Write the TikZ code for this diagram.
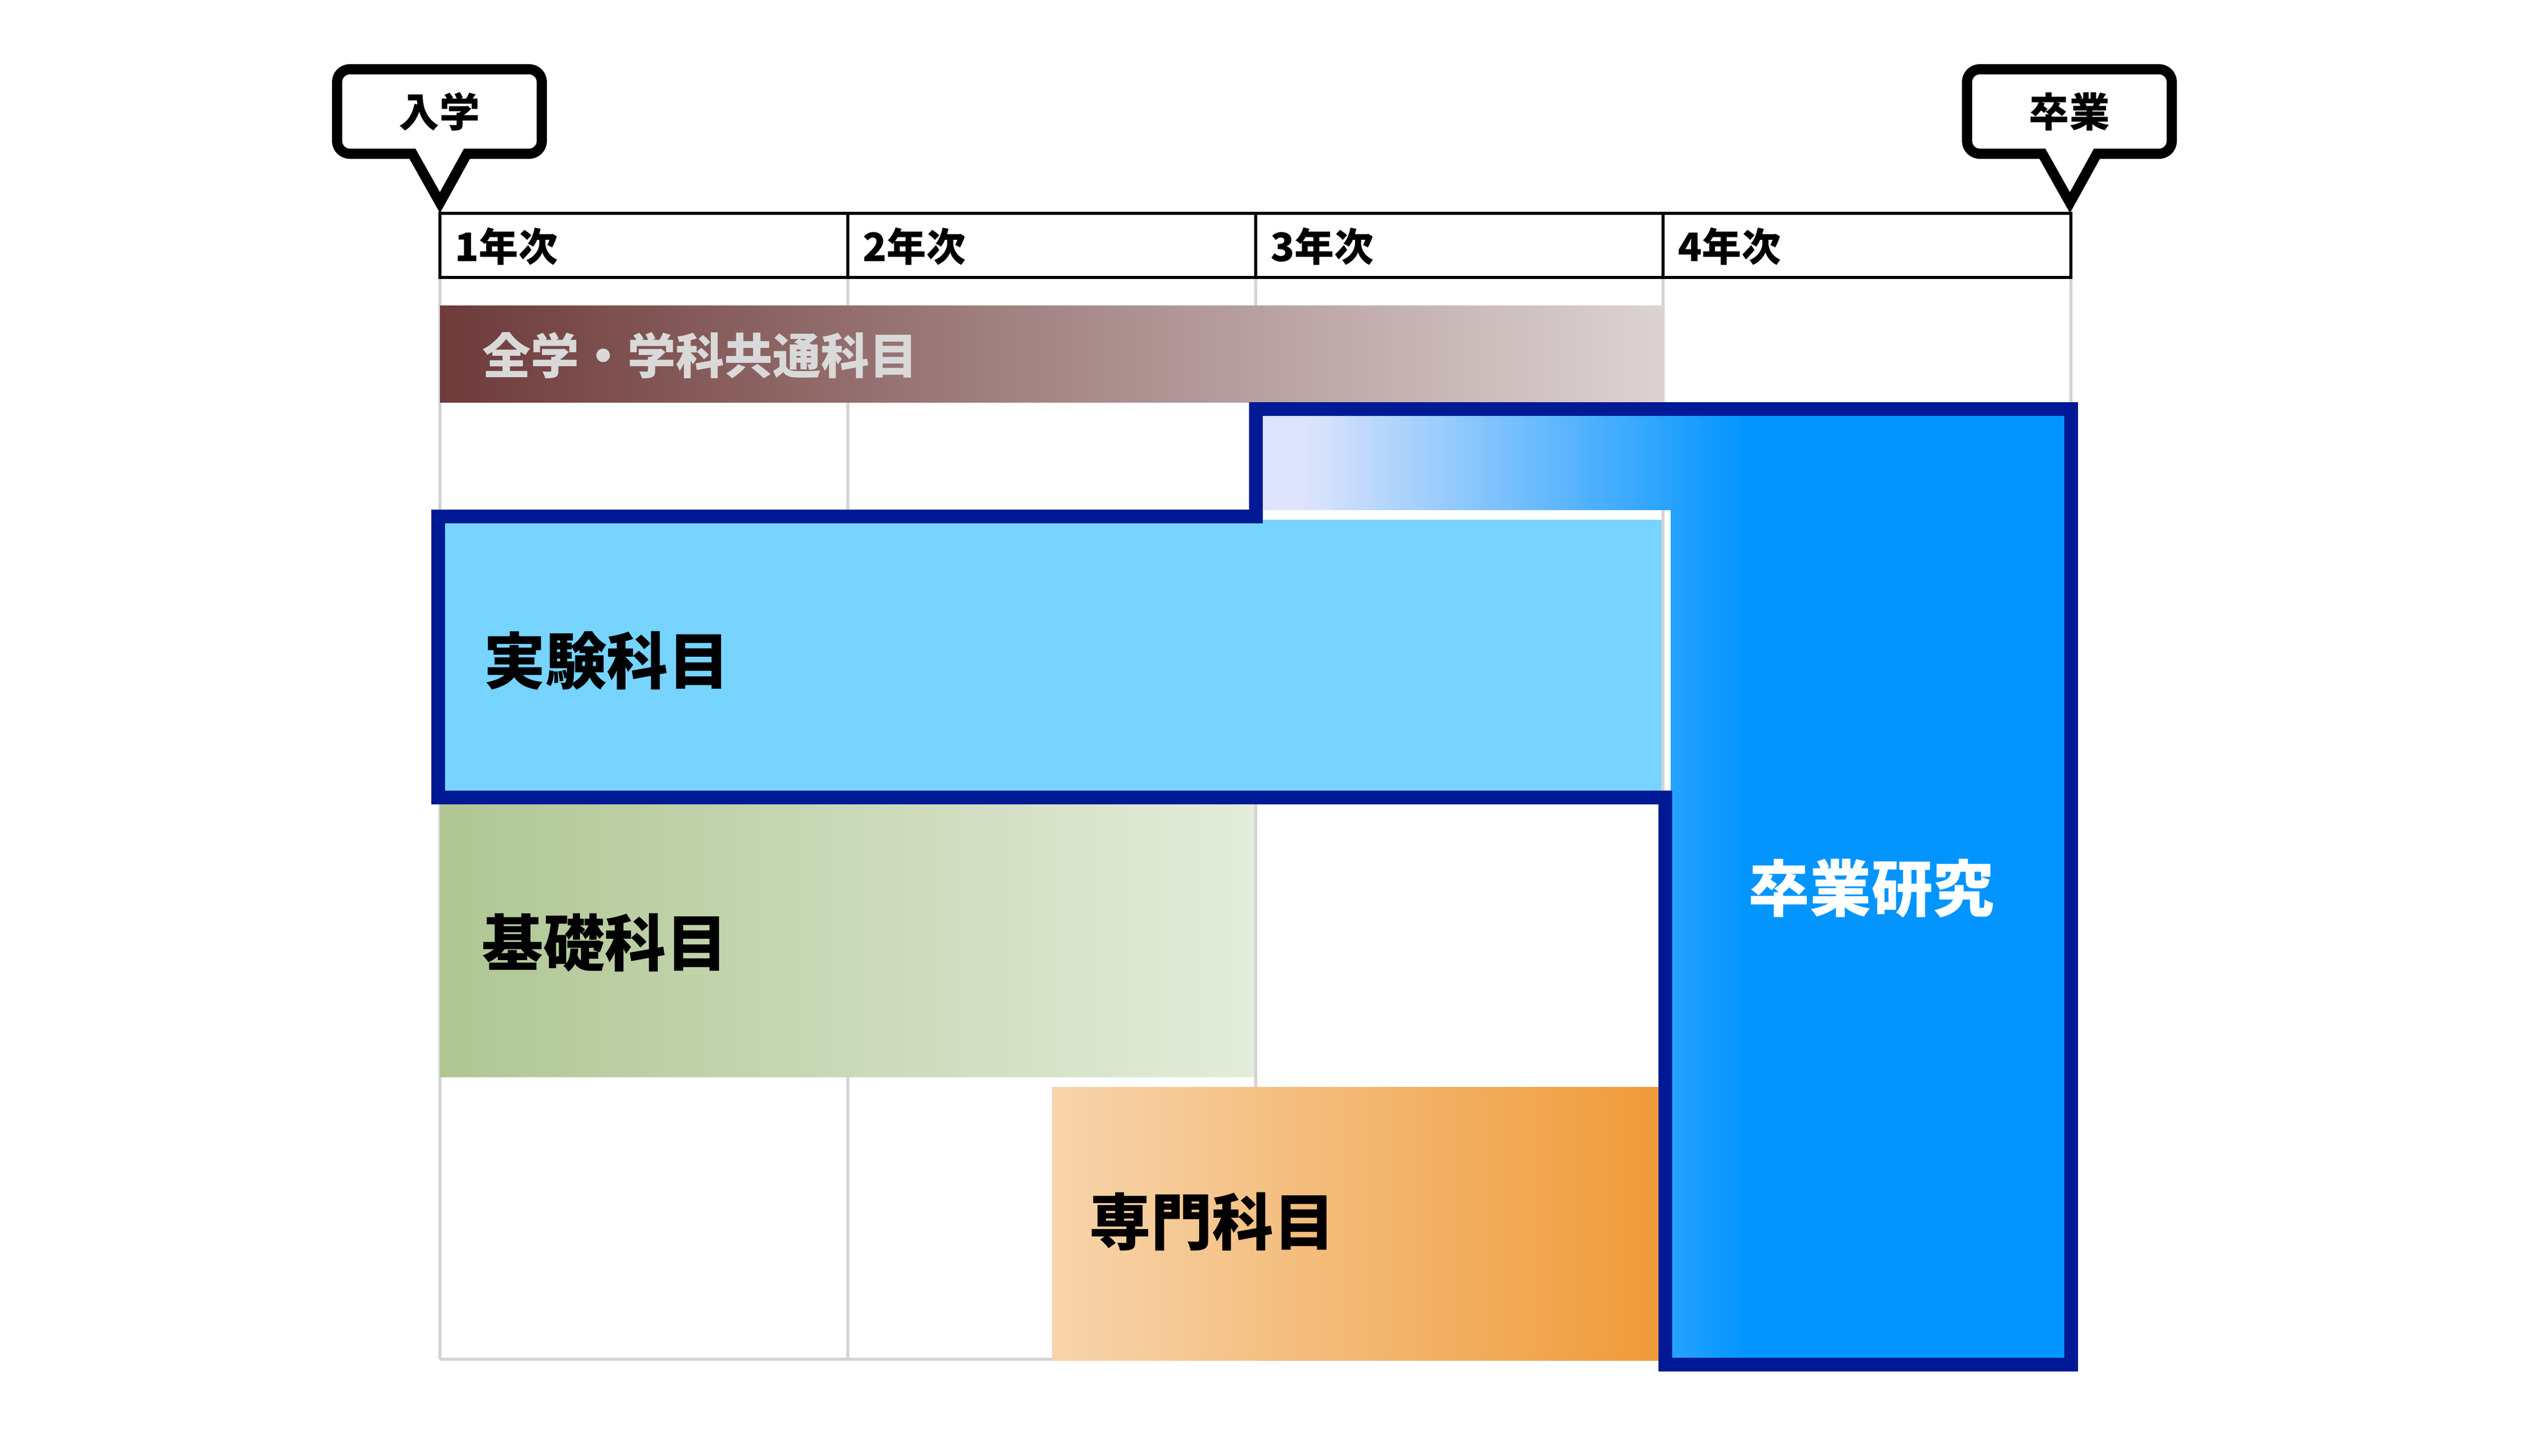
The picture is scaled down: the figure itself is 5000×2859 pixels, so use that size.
\documentclass[tikz,border=0pt]{standalone}
\usepackage{fontspec}
\newfontfamily\jp{Noto Sans CJK JP}
\definecolor{outl}{HTML}{001A96}
\definecolor{gridg}{HTML}{D4D4D4}
\definecolor{lblue}{HTML}{76D4FF}
\definecolor{lav}{HTML}{DDE4FB}
\definecolor{bblue}{HTML}{0295FF}
\definecolor{brL}{HTML}{6E3A3A}
\definecolor{brR}{HTML}{DDD3D3}
\definecolor{grL}{HTML}{AFC693}
\definecolor{grR}{HTML}{E4ECDB}
\definecolor{orL}{HTML}{F7D5AC}
\definecolor{orR}{HTML}{F09A37}
\definecolor{captxt}{HTML}{D9D9D9}
\pgfdeclarehorizontalshading{lshade}{100bp}{color(0bp)=(lav); color(28bp)=(lav); color(55bp)=(bblue); color(100bp)=(bblue)}
\tikzset{
  gridl/.style={draw=gridg, line width=0.06cm},
  hdr/.style={draw=black, line width=0.06cm},
  callout/.style={draw=black, line width=0.2cm, fill=white, line join=miter, miter limit=10},
  outline/.style={draw=outl, line width=0.27cm, line join=miter},
  hdrtxt/.style={anchor=west, inner sep=0pt, font=\jp\bfseries\fontsize{22}{26}\selectfont},
  bigtxt/.style={anchor=west, inner sep=0pt, font=\jp\bfseries\fontsize{34.3}{40}\selectfont},
  captxtstyle/.style={inner sep=0pt, font=\jp\bfseries\fontsize{22.5}{27}\selectfont},
}
\begin{document}
\begin{tikzpicture}[x=0.01cm,y=-0.01cm]
\useasboundingbox[fill=white] (0,0) rectangle (5000,2859);
% grid
\foreach \x in {864,1665,2466,3266,4067} \draw[gridl] (\x,545) -- (\x,2670);
\draw[gridl] (864,2670) -- (4067,2670);
% header
\draw[hdr, fill=white] (864,419) rectangle (4067,545);
\foreach \x in {1665,2466,3266} \draw[hdr] (\x,419) -- (\x,545);
\node[hdrtxt] (y1) at (893,484) {1年次};
\node[hdrtxt] (y2) at (1694,484) {2年次};
\node[hdrtxt] (y3) at (2495,484) {3年次};
\node[hdrtxt] (y4) at (3295,484) {4年次};
% callouts
\foreach \dx/\nm/\lab in {0/nyu/入学, 3201/sotsu/卒業}{
  \begin{scope}[shift={(\dx,0)}]
    \draw[callout] (917,302) -- (1039,302) arc(90:0:25) -- (1064,161) arc(0:-90:25)
      -- (687,136) arc(-90:-180:25) -- (662,277) arc(180:90:25) -- (810,302) -- (864,398) -- cycle;
    \node[captxtstyle] (\nm) at (863,219) {\lab};
  \end{scope}
}
% common subjects bar
\shade[left color=brL, right color=brR] (864,600) rectangle (3269,790);
\node[anchor=west, inner sep=0pt, text=captxt, font=\jp\bfseries\fontsize{27}{32}\selectfont] (common) at (947,698) {全学・学科共通科目};
% experiment box fill
\fill[lblue] (864,1021) rectangle (3263,1566);
% graduation research L fill
\shade[shading=lshade] (2466,803) -- (4067,803) -- (4067,2680) -- (3281,2680) -- (3281,1002) -- (2466,1002) -- cycle;
% basic subjects
\shade[left color=grL, right color=grR] (864,1579) rectangle (2463,2115);
% specialized subjects
\shade[left color=orL, right color=orR] (2066,2135) rectangle (3270,2672);
% outline
\draw[outline] (860,1014) -- (2466,1014) -- (2466,803) -- (4067,803) -- (4067,2680) -- (3270,2680) -- (3270,1566) -- (860,1566) -- cycle;
% labels
\node[bigtxt] (exp) at (950,1298) {実験科目};
\node[bigtxt] (basic) at (946,1852) {基礎科目};
\node[bigtxt] (spec) at (2139,2400) {専門科目};
\node[inner sep=0pt, text=white, font=\jp\bfseries\fontsize{34.3}{40}\selectfont] (grad) at (3675,1745) {卒業研究};
\end{tikzpicture}
\end{document}
